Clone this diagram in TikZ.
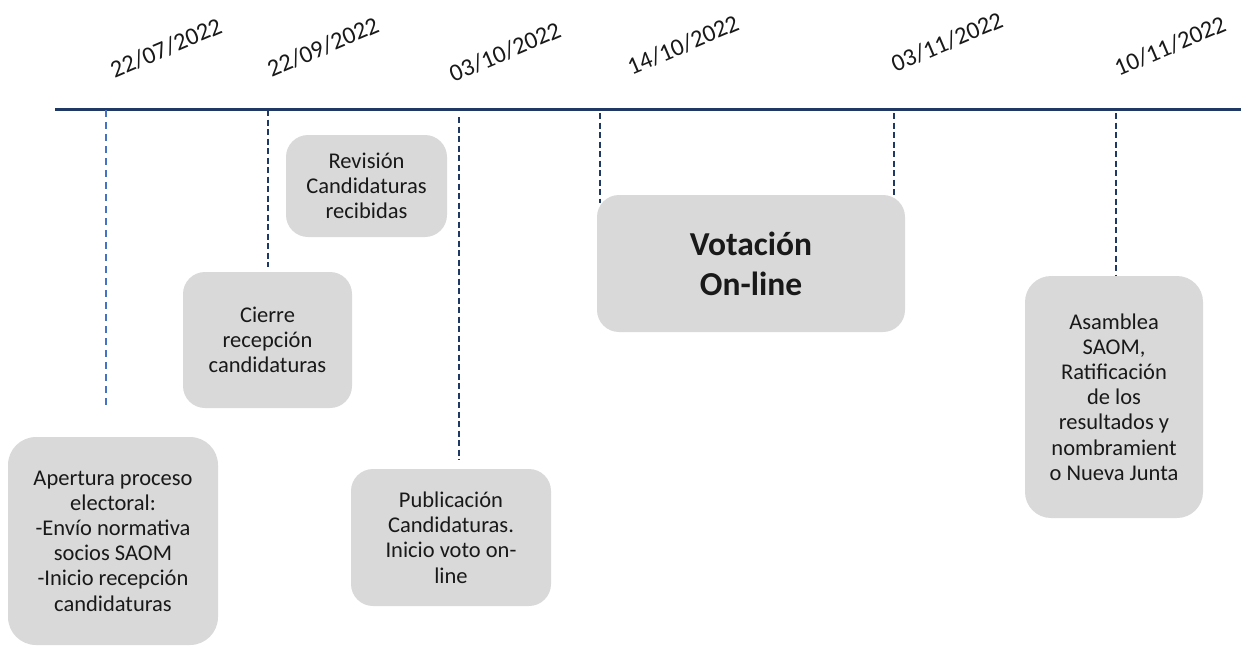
\documentclass[tikz,border=0pt]{standalone}
\usepackage{fontspec}
\setmainfont{Carlito}
\definecolor{boxgray}{HTML}{D9D9D9}
\definecolor{navy}{HTML}{1F3864}
\definecolor{midblue}{HTML}{4472C4}
\begin{document}
\begin{tikzpicture}[x=1pt,y=-1pt,
  box/.style={fill=boxgray, draw=none, rounded corners=22pt, align=center, inner sep=0pt,
    text=black!90, font=\fontsize{22.5}{25.2}\selectfont},
  bigbox/.style={box, font=\fontsize{33.5}{40}\bfseries\selectfont},
  datelbl/.style={rotate=23, inner sep=0pt, text=black!90, font=\fontsize{24.5}{28}\selectfont},
  timeline/.style={draw=navy, line width=3pt},
  tick/.style={draw=navy, line width=1.5pt, dash pattern=on 6pt off 3.5pt},
  firsttick/.style={draw=midblue, line width=1.8pt, dash pattern=on 7pt off 5pt}
]
\useasboundingbox (0,0) rectangle (1241,646);

% timeline
\coordinate (tlstart) at (55,109);
\coordinate (tlend) at (1241,109);
\draw[timeline] (tlstart) -- (tlend);

% tick coordinates
\coordinate (t1) at (106,110);  \coordinate (e1) at (106,407);
\coordinate (t2) at (268,110);  \coordinate (e2) at (268,267);
\coordinate (t3) at (459,117);  \coordinate (e3) at (459,460);
\coordinate (t4) at (600,113);  \coordinate (e4) at (600,203);
\coordinate (t5) at (894,113);  \coordinate (e5) at (894,203);
\coordinate (t6) at (1116,113); \coordinate (e6) at (1116,282);

\draw[firsttick] (t1) -- (e1);
\draw[tick] (t2) -- (e2);
\draw[tick] (t3) -- (e3);
\draw[tick] (t4) -- (e4);
\draw[tick] (t5) -- (e5);
\draw[tick] (t6) -- (e6);

% dates
\node[datelbl] (d1) at (166,48) {22/07/2022};
\node[datelbl] (d2) at (323,47) {22/09/2022};
\node[datelbl] (d3) at (505,52) {03/10/2022};
\node[datelbl] (d4) at (683,45) {14/10/2022};
\node[datelbl] (d5) at (947,42) {03/11/2022};
\node[datelbl] (d6) at (1170,46) {10/11/2022};

% boxes
\node[box, rounded corners=28pt, minimum width=210pt, minimum height=208pt] (apertura) at (113,541)
  {Apertura proceso\\electoral:\\-Envío normativa\\socios SAOM\\-Inicio recepción\\candidaturas};
\node[box, minimum width=169pt, minimum height=136pt] (cierre) at (267.5,340)
  {Cierre\\recepción\\candidaturas};
\node[box, minimum width=161pt, minimum height=102pt] (revision) at (366.5,186)
  {Revisión\\Candidaturas\\recibidas};
\node[box, minimum width=200pt, minimum height=137pt] (publicacion) at (451,537.5)
  {Publicación\\Candidaturas.\\Inicio voto on-\\line};
\node[bigbox, minimum width=308pt, minimum height=137pt] (votacion) at (751,263.5)
  {Votación\\On-line};
\node[box, rounded corners=26pt, minimum width=178pt, minimum height=242pt] (asamblea) at (1114,397)
  {Asamblea\\SAOM,\\Ratificación\\de los\\resultados y\\nombramient\\o Nueva Junta};
\end{tikzpicture}
\end{document}
